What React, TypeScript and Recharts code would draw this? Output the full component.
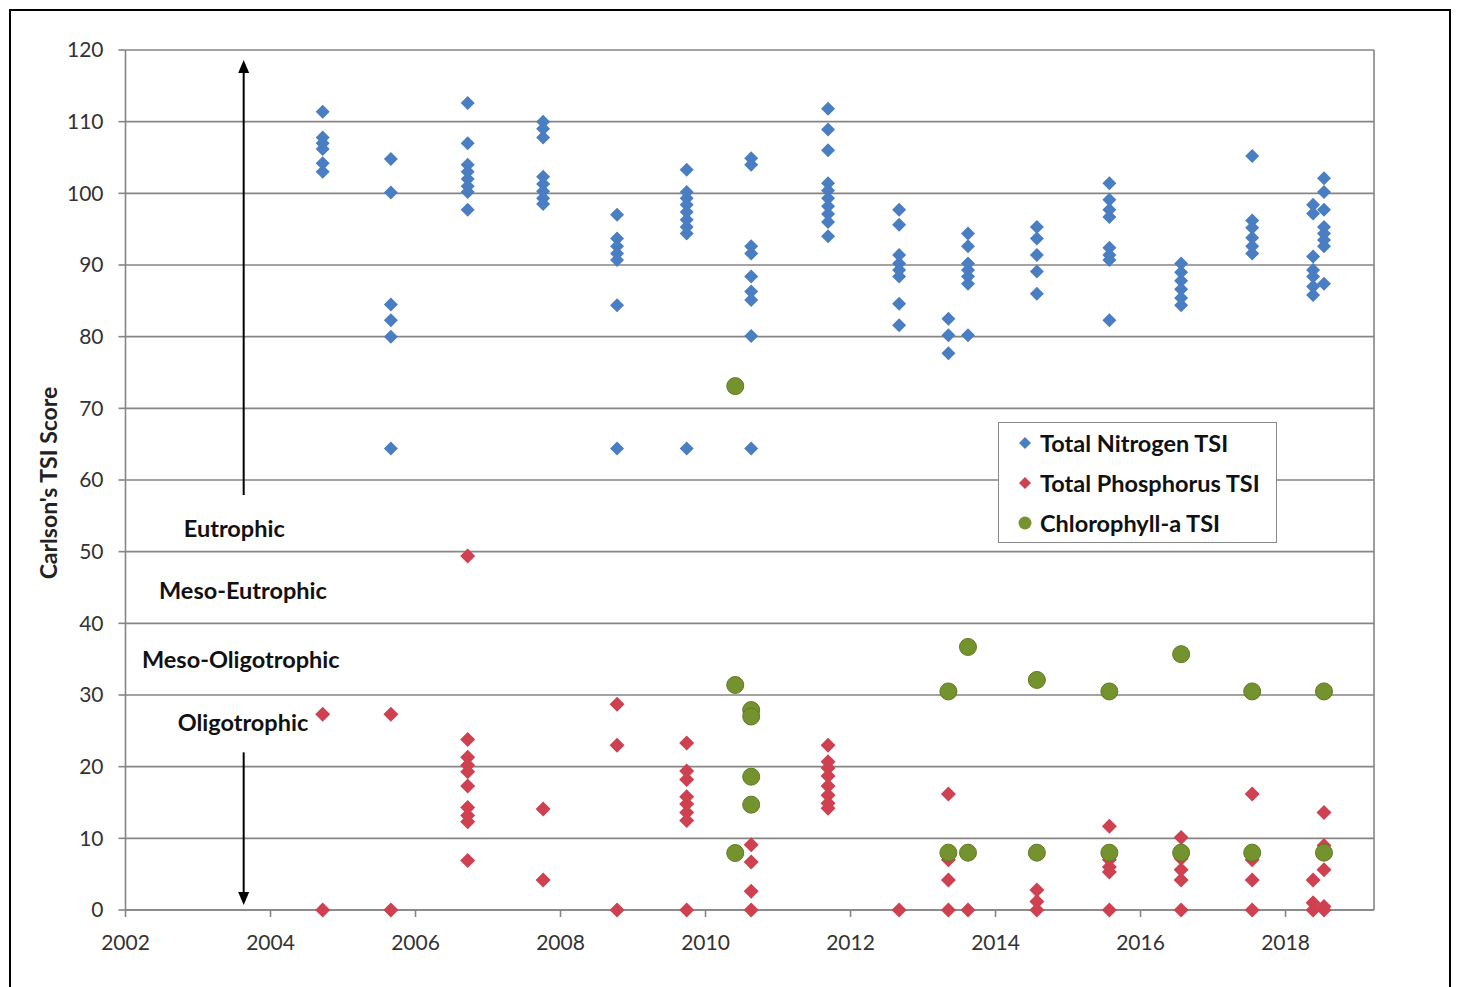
import {
  ScatterChart,
  Scatter,
  XAxis,
  YAxis,
  CartesianGrid,
  ReferenceLine,
  Legend,
} from "recharts";

const FONT = "Lato, 'Open Sans', sans-serif";

// sampling dates (decimal years) and the TSI scores read at each date
const nitrogenDates = [
  2004.72, 2005.66, 2006.72, 2007.76, 2008.78, 2009.74, 2010.63, 2011.69, 2012.67,
  2013.35, 2013.62, 2014.57, 2015.57, 2016.56, 2017.54, 2018.38, 2018.53,
];
const nitrogenValues = [
  [111.4, 107.8, 107, 106.2, 104.2, 103],
  [104.8, 100.1, 84.5, 82.3, 80, 64.4],
  [112.6, 107, 104, 103, 102, 101, 100.2, 97.7],
  [110, 109, 107.8, 102.3, 101.3, 100.3, 99.3, 98.5],
  [97, 93.7, 92.6, 91.6, 90.7, 84.4, 64.4],
  [103.3, 100.2, 99.3, 98.4, 97.4, 96.3, 95.3, 94.4, 64.4],
  [104.9, 104, 92.6, 91.6, 88.4, 86.3, 85.1, 80.1, 64.4],
  [111.8, 108.9, 106, 101.4, 100.4, 99.3, 98.2, 97.1, 96, 94],
  [97.7, 95.6, 91.4, 90.2, 89.3, 88.4, 84.6, 81.6],
  [82.5, 80.2, 77.7],
  [94.4, 92.6, 90.2, 89.3, 88.4, 87.4, 80.2],
  [95.3, 93.7, 91.4, 89.1, 86],
  [101.4, 99.1, 97.7, 96.7, 92.4, 91.4, 90.7, 82.3],
  [90.2, 89, 87.8, 86.6, 85.4, 84.4],
  [105.2, 96.2, 95.2, 93.8, 92.6, 91.6],
  [98.4, 97.2, 91.2, 89.3, 88.4, 87, 85.8],
  [102.1, 100.2, 97.7, 95.3, 94.4, 93.5, 92.6, 87.4],
];

const phosphorusDates = [
  2004.72, 2005.66, 2006.72, 2007.76, 2008.78, 2009.74, 2010.63, 2011.69, 2012.67,
  2013.35, 2013.62, 2014.57, 2015.57, 2016.56, 2017.54, 2018.38, 2018.53,
];
const phosphorusValues = [
  [27.3, 0],
  [27.3, 0],
  [49.4, 23.8, 21.3, 20.2, 19.3, 17.3, 14.3, 13.2, 12.3, 6.9],
  [14.1, 4.2],
  [28.7, 23, 0],
  [23.3, 19.4, 18.2, 15.8, 14.8, 13.6, 12.5, 0],
  [9.1, 6.7, 2.6, 0],
  [23, 20.7, 19.8, 18.7, 17.3, 16, 14.9, 14.2],
  [0],
  [16.2, 7, 4.2, 0],
  [0],
  [2.8, 1.2, 0],
  [11.7, 7, 6, 5.3, 0],
  [10.1, 7.2, 5.6, 4.2, 0],
  [16.2, 7, 4.2, 0],
  [4.2, 1, 0],
  [13.6, 9, 5.6, 0.5, 0],
];

const chlorophyllDates = [
  2010.41, 2010.63, 2013.35, 2013.62, 2014.57, 2015.57, 2016.56, 2017.54, 2018.53,
];
const chlorophyllValues = [
  [73.1, 31.4, 7.95],
  [27.9, 27.0, 18.6, 14.7],
  [30.5, 8],
  [36.7, 8],
  [32.1, 8],
  [30.5, 8],
  [35.7, 8],
  [30.5, 8],
  [30.5, 8],
];

const xTicks = [2002, 2004, 2006, 2008, 2010, 2012, 2014, 2016, 2018];
const yTicks = [0, 10, 20, 30, 40, 50, 60, 70, 80, 90, 100, 110, 120];
const xDomain = [2002, 2019.22];

const seriesNames = ["Total Nitrogen TSI", "Total Phosphorus TSI", "Chlorophyll-a TSI"];
const seriesColors = ["#4a7ec2", "#cf4150", "#74932f"];

const zoneLabels = ["Eutrophic", "Meso-Eutrophic", "Meso-Oligotrophic", "Oligotrophic"];
const zoneLabelYears = [2003.5, 2003.62, 2003.59, 2003.62];
const zoneLabelScores = [53.3, 44.6, 35.0, 26.2];

const arrowYear = 2003.63;
const upArrow = [57.9, 118.6];
const downArrow = [22, 0.7];

function toPoints(dates: number[], values: number[][]) {
  return dates.flatMap((d, i) => values[i].map((v) => ({ year: d, score: v })));
}

const nitrogenData = toPoints(nitrogenDates, nitrogenValues);
const phosphorusData = toPoints(phosphorusDates, phosphorusValues);
const chlorophyllData = toPoints(chlorophyllDates, chlorophyllValues);
const zoneData = zoneLabels.map((label, i) => ({
  year: zoneLabelYears[i],
  score: zoneLabelScores[i],
  label,
}));

const diamond = (color: string, half: number) => (props: any) => {
  const { cx, cy } = props;
  if (cx == null || cy == null) return <g />;
  return (
    <polygon
      points={`${cx},${cy - half} ${cx + half},${cy} ${cx},${cy + half} ${cx - half},${cy}`}
      fill={color}
    />
  );
};

const circle = (color: string, r: number) => (props: any) => {
  const { cx, cy } = props;
  if (cx == null || cy == null) return <g />;
  return <circle cx={cx} cy={cy} r={r} fill={color} stroke="#5f7a22" strokeWidth={1} />;
};

const zoneText = (props: any) => {
  const { cx, cy, payload } = props;
  return (
    <text
      x={cx}
      y={cy}
      textAnchor="middle"
      dominantBaseline="central"
      fontFamily={FONT}
      fontSize={23.5}
      fontWeight="bold"
      fill="#111"
    >
      {payload.label}
    </text>
  );
};

const arrow = (props: any) => {
  const { x1, y1, x2, y2 } = props;
  const dir = y2 > y1 ? 1 : -1;
  const head = 13;
  return (
    <g>
      <line x1={x1} y1={y1} x2={x2} y2={y2 - dir * head} stroke="#000" strokeWidth={2} />
      <polygon
        points={`${x2},${y2} ${x2 - 5.5},${y2 - dir * head} ${x2 + 5.5},${y2 - dir * head}`}
        fill="#000"
      />
    </g>
  );
};

function LegendBox() {
  return (
    <div
      style={{
        width: 277,
        height: 119,
        border: "1.5px solid #8a8a8a",
        background: "#fff",
        fontFamily: FONT,
        fontWeight: "bold",
        fontSize: 23.5,
        color: "#111",
      }}
    >
      {seriesNames.map((name, i) => (
        <div
          key={name}
          style={{ height: 40, display: "flex", alignItems: "center", position: "relative" }}
        >
          <svg width={20} height={20} style={{ position: "absolute", left: 16, top: 10 }}>
            {i < 2 ? (
              <polygon points="10,4 16,10 10,16 4,10" fill={seriesColors[i]} />
            ) : (
              <circle cx={10} cy={10} r={6.5} fill={seriesColors[i]} />
            )}
          </svg>
          <span style={{ marginLeft: 41, whiteSpace: "nowrap" }}>{name}</span>
        </div>
      ))}
    </div>
  );
}

const yTitle = (props: any) => {
  const vb = props.viewBox || { x: 0, y: 0, height: 0 };
  const x = vb.x + 37;
  const y = vb.y + vb.height / 2 + 3;
  return (
    <text
      x={x}
      y={y}
      transform={`rotate(-90 ${x} ${y})`}
      textAnchor="middle"
      dominantBaseline="central"
      fontFamily={FONT}
      fontSize={23}
      fontWeight="bold"
      fill="#222"
    >
      Carlson's TSI Score
    </text>
  );
};

export default function App() {
  return (
    <div
      style={{
        position: "absolute",
        left: 9,
        top: 9,
        width: 1442,
        height: 990,
        boxSizing: "border-box",
        border: "2px solid #000",
        background: "#fff",
        fontFamily: FONT,
      }}
    >
      <ScatterChart width={1438} height={974} margin={{ top: 39, right: 75, bottom: 25, left: 0 }}>
        <CartesianGrid vertical={false} stroke="#858585" strokeWidth={1.6} />
        <XAxis
          type="number"
          dataKey="year"
          domain={xDomain}
          ticks={xTicks}
          allowDataOverflow
          height={50}
          tickSize={7}
          tickMargin={18}
          stroke="#858585"
          strokeWidth={1.6}
          tick={{ fill: "#333", fontSize: 21, fontFamily: FONT }}
        />
        <YAxis
          type="number"
          dataKey="score"
          domain={[0, 120]}
          ticks={yTicks}
          width={114.5}
          tickSize={7}
          tickMargin={15}
          stroke="#858585"
          strokeWidth={1.6}
          tick={{ fill: "#333", fontSize: 21, fontFamily: FONT }}
          label={yTitle}
        />
        <ReferenceLine x={xDomain[1]} stroke="#858585" strokeWidth={1.6} />
        <ReferenceLine
          segment={[
            { x: arrowYear, y: upArrow[0] },
            { x: arrowYear, y: upArrow[1] },
          ]}
          shape={arrow}
        />
        <ReferenceLine
          segment={[
            { x: arrowYear, y: downArrow[0] },
            { x: arrowYear, y: downArrow[1] },
          ]}
          shape={arrow}
        />
        <Scatter
          name="zones"
          data={zoneData}
          shape={zoneText}
          legendType="none"
          isAnimationActive={false}
        />
        <Scatter
          name={seriesNames[0]}
          data={nitrogenData}
          shape={diamond(seriesColors[0], 7)}
          isAnimationActive={false}
        />
        <Scatter
          name={seriesNames[1]}
          data={phosphorusData}
          shape={diamond(seriesColors[1], 7.5)}
          isAnimationActive={false}
        />
        <Scatter
          name={seriesNames[2]}
          data={chlorophyllData}
          shape={circle(seriesColors[2], 8.5)}
          isAnimationActive={false}
        />
        <Legend
          layout="vertical"
          align="center"
          verticalAlign="middle"
          content={<LegendBox />}
          wrapperStyle={{ left: 987, top: 411, width: 280 }}
        />
      </ScatterChart>
    </div>
  );
}
